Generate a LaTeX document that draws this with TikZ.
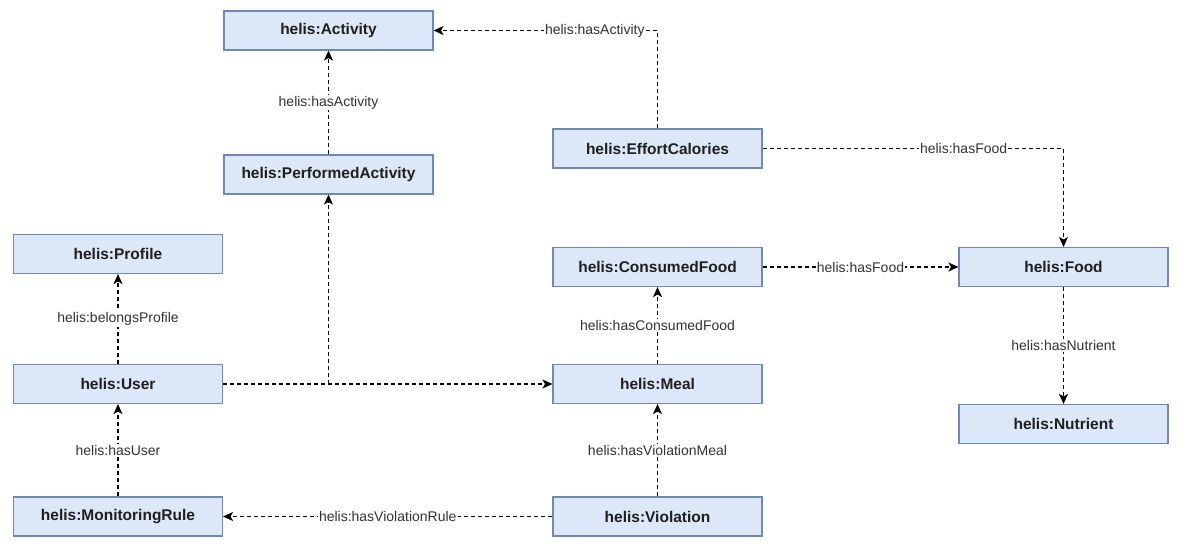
\documentclass[tikz,border=0pt]{standalone}
\usepackage{fontspec}
\setmainfont{Liberation Sans}
\usetikzlibrary{arrows.meta}
\definecolor{boxfill}{HTML}{DCE7F8}
\definecolor{boxborder}{HTML}{7088B8}
\definecolor{labelgray}{HTML}{333333}
\begin{document}
\begin{tikzpicture}[x=1pt,y=-1pt,
  cls/.style={draw=boxborder, fill=boxfill, line width=1.1pt, minimum width=209pt, minimum height=39pt, inner sep=0pt, font=\fontsize{15.5}{18}\selectfont\bfseries, text=black!88},
  rel/.style={draw=black, line width=1.3pt, dash pattern=on 4pt off 3pt, -{Stealth[length=10pt,width=9pt,inset=2.5pt]}},
  lbl/.style={fill=white, inner sep=1pt, font=\fontsize{14}{16}\selectfont, text=labelgray}]
\useasboundingbox (0,0) rectangle (1181,550);
\node[cls] (act)  at (328.5,30.5)  {helis:Activity};
\node[cls] (pa)   at (328.5,174.5) {helis:PerformedActivity};
\node[cls] (ec)   at (657.5,148.5) {helis:EffortCalories};
\node[cls] (prof) at (118,254)     {helis:Profile};
\node[cls] (cf)   at (657.5,267)   {helis:ConsumedFood};
\node[cls] (food) at (1063.5,267)  {helis:Food};
\node[cls] (user) at (118,384)     {helis:User};
\node[cls] (meal) at (657.5,384)   {helis:Meal};
\node[cls] (nut)  at (1063.5,424)  {helis:Nutrient};
\node[cls] (mr)   at (118,516.5)   {helis:MonitoringRule};
\node[cls] (viol) at (657.5,516.5) {helis:Violation};
\coordinate (j) at (pa.south |- user.east);

\draw[rel] (pa) -- node[lbl]{helis:hasActivity} (act);
\draw[rel] (ec.north) |- node[lbl,pos=0.64]{helis:hasActivity} (act.east);
\draw[rel] (ec.east) -| node[lbl,pos=0.334]{helis:hasFood} (food.north);
\draw[rel] (cf) -- node[lbl]{helis:hasFood} (food);
\draw[rel] (food) -- node[lbl]{helis:hasNutrient} (nut);
\draw[rel] (meal) -- node[lbl]{helis:hasConsumedFood} (cf);
\draw[rel] (viol) -- node[lbl]{helis:hasViolationMeal} (meal);
\draw[rel] (viol) -- node[lbl]{helis:hasViolationRule} (mr);
\draw[rel] (mr) -- node[lbl]{helis:hasUser} (user);
\draw[rel] (user) -- node[lbl]{helis:belongsProfile} (prof);
\draw[rel] (user) -- (meal);
\draw[rel] (j) -- (pa.south);
\end{tikzpicture}
\end{document}
